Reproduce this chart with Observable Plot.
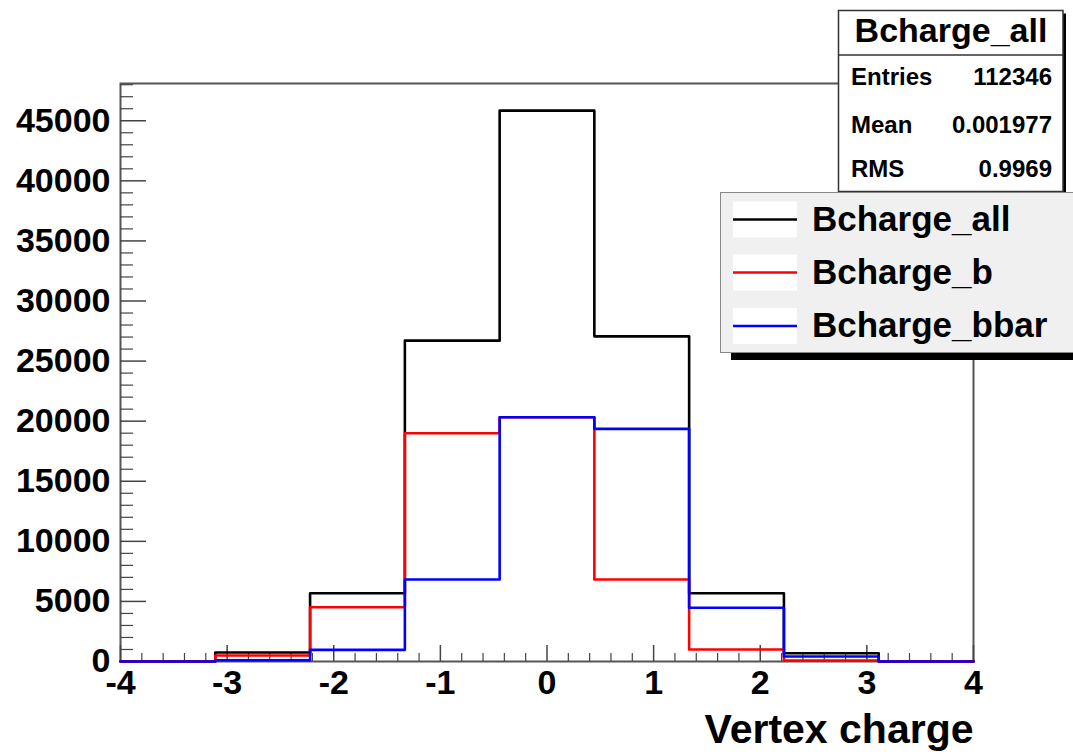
<!DOCTYPE html>
<html><head><meta charset="utf-8">
<script src="https://cdn.jsdelivr.net/npm/d3@7"></script>
<script src="https://cdn.jsdelivr.net/npm/@observablehq/plot@0.6"></script>
<style>
body{margin:0;background:#fff;}
#wrap{position:relative;width:1073px;height:755px;overflow:hidden;}
</style>
</head><body><div id="wrap"></div>
<script>
// ---- data ----
const binEdges = [-4, -3.111, -2.222, -1.333, -0.444, 0.444, 1.333, 2.222, 3.111, 4];
const countsAll  = [0, 750, 5680, 26700, 45840, 27060, 5680, 690, 0];
const countsB    = [0, 500, 4520, 18990, 20320, 6820, 1000, 80, 0];
const countsBbar = [0, 100, 970, 6820, 20320, 19360, 4470, 420, 0];
const seriesNames = ["Bcharge_all", "Bcharge_b", "Bcharge_bbar"];
const seriesColors = ["#000000", "#ff0000", "#0000ff"];
const xTicks = [-4, -3, -2, -1, 0, 1, 2, 3, 4];
const xTickLabels = ["-4", "-3", "-2", "-1", "0", "1", "2", "3", "4"];
const yTicks = [0, 5000, 10000, 15000, 20000, 25000, 30000, 35000, 40000, 45000];
const yTickLabels = ["0", "5000", "10000", "15000", "20000", "25000", "30000", "35000", "40000", "45000"];
const xTitle = "Vertex charge";
const statsTitle = "Bcharge_all";
const statsLabels = ["Entries", "Mean", "RMS"];
const statsValues = ["112346", "0.001977", "0.9969"];

const FONT = '"Liberation Sans", Arial, Helvetica, sans-serif';
const W = 1073, H = 755, ML = 120, MR = 100, MT = 83, MB = 94;
const PW = W - ML - MR, PH = H - MT - MB;

function steps(counts, name) {
  return binEdges.map((e, i) => ({x: e, y: counts[Math.min(i, counts.length - 1)], series: name}));
}
const allSeries = [countsAll, countsB, countsBbar].map((c, i) => steps(c, seriesNames[i]));

const yMinor = d3.range(0, 48001, 1000).filter(v => v % 5000 !== 0);
const xMinor = d3.range(-40, 41, 2).map(v => v / 10).filter(v => !Number.isInteger(v));

const chart = Plot.plot({
  width: W, height: H,
  marginLeft: ML, marginRight: MR, marginTop: MT, marginBottom: MB,
  style: {fontFamily: FONT, fontWeight: "bold", background: "#fff", color: "#000"},
  x: {domain: [-4, 4], label: null},
  y: {domain: [0, 48100], label: null},
  marks: [
    Plot.frame({stroke: "#555", strokeWidth: 2}),
    Plot.tickY(yTicks, {y: d => d, insetRight: PW - 26, stroke: "#444", strokeWidth: 1.5}),
    Plot.tickY(yMinor, {y: d => d, insetRight: PW - 13, stroke: "#444", strokeWidth: 1.2}),
    Plot.tickX(xTicks, {x: d => d, insetTop: PH - 16, stroke: "#444", strokeWidth: 1.5}),
    Plot.tickX(xMinor, {x: d => d, insetTop: PH - 8, stroke: "#444", strokeWidth: 1.2}),
    Plot.axisY(yTicks, {tickSize: 0, tickPadding: 10, fontSize: 34, fontWeight: "bold", fontFamily: FONT,
      tickFormat: (d, i) => yTickLabels[i], label: null}),
    Plot.axisX(xTicks, {tickSize: 0, tickPadding: 8, fontSize: 34, fontWeight: "bold", fontFamily: FONT,
      tickFormat: (d, i) => xTickLabels[i], label: null}),
    ...allSeries.map((s, i) => Plot.line(s, {x: "x", y: "y", curve: "step-after",
      stroke: seriesColors[i], strokeWidth: 2.6})),
    Plot.text([xTitle], {text: d => d, frameAnchor: "bottom-right", dy: 68, textAnchor: "end",
      lineAnchor: "middle", fontSize: 41, fontWeight: "bold", fontFamily: FONT, fill: "#000"})
  ]
});
document.getElementById("wrap").appendChild(chart);

// ---- stats box and legend (ROOT style) ----
const svg = d3.select(chart);
const g = svg.append("g").attr("font-family", FONT).attr("font-weight", "bold").attr("text-anchor", "start");

// stats box
g.append("rect").attr("x", 841.5).attr("y", 13.5).attr("width", 224.5).attr("height", 181).attr("fill", "#000");
g.append("rect").attr("x", 838.5).attr("y", 10.5).attr("width", 224.5).attr("height", 181)
  .attr("fill", "#fff").attr("stroke", "#333").attr("stroke-width", 1.5);
g.append("line").attr("x1", 838.5).attr("x2", 1063).attr("y1", 55).attr("y2", 55).attr("stroke", "#333").attr("stroke-width", 1.5);
g.append("text").attr("x", 951).attr("y", 42).attr("text-anchor", "middle").attr("font-size", 34).text(statsTitle);
const rowY = [85, 133, 177];
statsLabels.forEach((lab, i) => {
  g.append("text").attr("x", 851).attr("y", rowY[i]).attr("text-anchor", "start").attr("font-size", 24).text(lab);
  g.append("text").attr("x", 1052).attr("y", rowY[i]).attr("text-anchor", "end").attr("font-size", 24).text(statsValues[i]);
});

// legend
g.append("rect").attr("x", 731).attr("y", 200).attr("width", 400).attr("height", 160).attr("fill", "#000");
g.append("rect").attr("x", 720.5).attr("y", 192.5).attr("width", 400).attr("height", 160)
  .attr("fill", "#f0f0f0").attr("stroke", "#888").attr("stroke-width", 1);
const legY = [219.5, 272.5, 326];
seriesNames.forEach((name, i) => {
  g.append("rect").attr("x", 733).attr("y", legY[i] - 18).attr("width", 64).attr("height", 36).attr("fill", "#fff");
  g.append("line").attr("x1", 733).attr("x2", 797).attr("y1", legY[i]).attr("y2", legY[i])
    .attr("stroke", seriesColors[i]).attr("stroke-width", 2.5);
  g.append("text").attr("x", 812).attr("y", legY[i] + 11).attr("text-anchor", "start").attr("font-size", 35).text(name);
});
</script>
</body></html>
